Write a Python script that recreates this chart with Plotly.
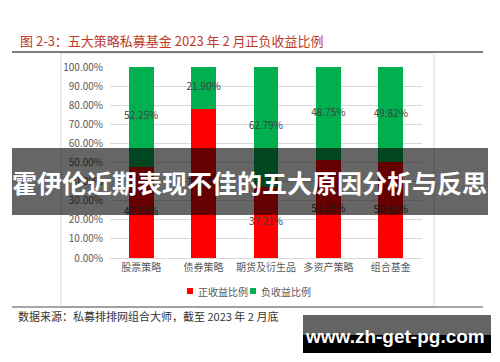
import plotly.graph_objects as go

categories = ["股票策略", "债券策略", "期货及衍生品", "多资产策略", "组合基金"]
positive = [47.75, 78.10, 37.21, 51.25, 50.18]
negative = [52.25, 21.90, 62.79, 48.75, 49.82]
series_names = ["正收益比例", "负收益比例"]
series_colors = ["#ff0000", "#00b050"]
title_text = "图 2-3：五大策略私募基金 2023 年 2 月正负收益比例"
source_text = "数据来源：私募排排网组合大师，截至 2023 年 2 月底"
banner_text = "霍伊伦近期表现不佳的五大原因分析与反思"
site_text = "www.zh-get-pg.com"

W, H = 500, 362
L, R, T, B = 110, 422, 67, 258
FONT = "Noto Sans CJK SC"

def px(x):
    return (x - L) / (R - L)

def py(y):
    return (B - y) / (B - T)

fig = go.Figure()
pos = [v / 100 for v in positive]
neg = [v / 100 for v in negative]
fig.add_bar(x=categories, y=pos, name=series_names[0], marker_color=series_colors[0],
            marker_line_width=0, showlegend=False)
fig.add_bar(x=categories, y=neg, name=series_names[1], marker_color=series_colors[1],
            marker_line_width=0, showlegend=False)
fig.add_scatter(x=categories, y=[p / 2 for p in pos], mode="text",
                text=[f"{v:.2f}%" for v in positive], textposition="middle center",
                textfont=dict(color="#404040", size=10, family=FONT), showlegend=False, hoverinfo="skip")
fig.add_scatter(x=categories, y=[p + n / 2 for p, n in zip(pos, neg)], mode="text",
                text=[f"{v:.2f}%" for v in negative], textposition="middle center",
                textfont=dict(color="#404040", size=10, family=FONT), showlegend=False, hoverinfo="skip")

shapes = []
shapes.append(dict(type="line", xref="paper", yref="paper", x0=px(12), x1=px(483), y0=py(52), y1=py(52),
                   line=dict(color="#555555", width=1.5)))
shapes.append(dict(type="rect", xref="paper", yref="paper", x0=px(61), x1=px(434), y0=py(307), y1=py(53),
                   line=dict(color="#d9d9d9", width=1), layer="below"))
shapes.append(dict(type="line", xref="paper", yref="paper", x0=px(12), x1=px(483), y0=py(307), y1=py(307),
                   line=dict(color="#888888", width=1.5)))
legend_sq = [(187, 291), (250, 291)]
for (lx, ly), c in zip(legend_sq, series_colors):
    shapes.append(dict(type="rect", xref="paper", yref="paper", x0=px(lx), x1=px(lx + 6),
                       y0=py(ly + 3), y1=py(ly - 3), fillcolor=c, line=dict(width=0)))
shapes.append(dict(type="rect", xref="paper", yref="paper", x0=px(12), x1=px(488), y0=py(215), y1=py(148),
                   fillcolor="rgba(0,0,0,0.6)", line=dict(width=0), layer="above"))
shapes.append(dict(type="rect", xref="paper", yref="paper", x0=px(303), x1=px(491), y0=py(335), y1=py(315),
                   fillcolor="#646464", line=dict(width=0), layer="above"))
shapes.append(dict(type="rect", xref="paper", yref="paper", x0=px(303), x1=px(491), y0=py(353), y1=py(335),
                   fillcolor="#000000", line=dict(width=0), layer="above"))

annotations = [
    dict(text=title_text, xref="paper", yref="paper", x=px(18), y=py(40), xanchor="left", yanchor="middle",
         showarrow=False, font=dict(family=FONT, size=13, color="#c0392b")),
    dict(text=source_text, xref="paper", yref="paper", x=px(16), y=py(316), xanchor="left", yanchor="middle",
         showarrow=False, font=dict(family=FONT, size=11, color="#333333")),
]
for (lx, ly), name in zip(legend_sq, series_names):
    annotations.append(dict(text=name, xref="paper", yref="paper", x=px(lx + 9), y=py(ly),
                            xanchor="left", yanchor="middle", showarrow=False,
                            font=dict(family=FONT, size=10, color="#595959")))
annotations += [
    dict(text=f"<b>{banner_text}</b>", xref="paper", yref="paper", x=px(249), y=py(182), xanchor="center",
         yanchor="middle", showarrow=False, font=dict(family=FONT, size=25, color="#ffffff")),
    dict(text=f"<b>{site_text}</b>", xref="paper", yref="paper", x=px(395), y=py(336), xanchor="center",
         yanchor="middle", showarrow=False, font=dict(family="Liberation Sans", size=19, color="#ffffff")),
]

fig.update_layout(
    width=W, height=H, barmode="stack", bargap=0.6,
    margin=dict(l=L, r=W - R, t=T, b=H - B),
    paper_bgcolor="#ffffff", plot_bgcolor="#ffffff",
    font=dict(family=FONT, color="#595959"),
    shapes=shapes, annotations=annotations, showlegend=False,
)
fig.update_yaxes(range=[0, 1], tickformat=".2%", dtick=0.1, showgrid=True, gridcolor="#d9d9d9",
                 zeroline=False, showline=False, tickfont=dict(size=10, color="#595959"), ticks="",
                 ticklabelstandoff=6)
fig.update_xaxes(showline=True, linecolor="#d9d9d9", tickfont=dict(size=10, color="#595959"), ticks="")

fig.write_html("out.html")
